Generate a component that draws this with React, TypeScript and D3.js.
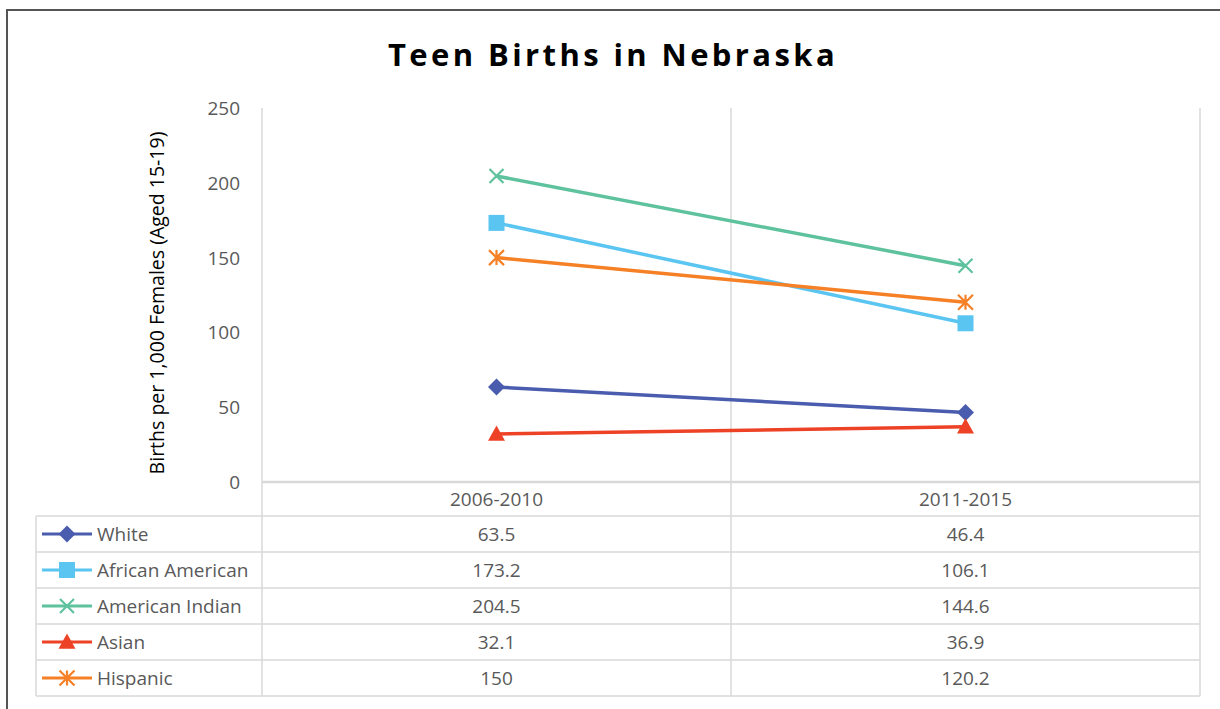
import React from "react";
import * as d3 from "d3";

const categories = ["2006-2010", "2011-2015"];
const seriesNames = ["White", "African American", "American Indian", "Asian", "Hispanic"];
const whiteValues = [63.5, 46.4];
const africanAmericanValues = [173.2, 106.1];
const americanIndianValues = [204.5, 144.6];
const asianValues = [32.1, 36.9];
const hispanicValues = [150, 120.2];
const yTicks = [0, 50, 100, 150, 200, 250];
const valueLabels = [
  ["63.5", "46.4"],
  ["173.2", "106.1"],
  ["204.5", "144.6"],
  ["32.1", "36.9"],
  ["150", "120.2"],
];

const seriesValues = [whiteValues, africanAmericanValues, americanIndianValues, asianValues, hispanicValues];
const colors = ["#4a5cae", "#5bc5f2", "#5ec29e", "#ee4227", "#f58026"];
const markers = ["diamond", "square", "x", "triangle", "star"];

const FONT = "Open Sans, Noto Sans, sans-serif";
const GRID = "#d9d9d9";
const TXT = "#595959";

function Marker({ type, x, y, color }: { type: string; x: number; y: number; color: string }) {
  if (type === "diamond") {
    const s = 8.5;
    return <path d={`M${x},${y - s}L${x + s},${y}L${x},${y + s}L${x - s},${y}Z`} fill={color} />;
  }
  if (type === "square") {
    const s = 8;
    return <rect x={x - s} y={y - s} width={2 * s} height={2 * s} fill={color} />;
  }
  if (type === "triangle") {
    const s = 8.5;
    return <path d={`M${x},${y - s}L${x + s},${y + s * 0.8}L${x - s},${y + s * 0.8}Z`} fill={color} />;
  }
  if (type === "x") {
    const s = 7;
    return (
      <path d={`M${x - s},${y - s}L${x + s},${y + s}M${x - s},${y + s}L${x + s},${y - s}`} stroke={color} strokeWidth={2.2} />
    );
  }
  const s = 7.5;
  return (
    <path
      d={`M${x - s},${y - s}L${x + s},${y + s}M${x - s},${y + s}L${x + s},${y - s}M${x},${y - s}L${x},${y + s}`}
      stroke={color}
      strokeWidth={2.2}
    />
  );
}

export default function App() {
  const W = 1220;
  const H = 709;
  const left = 262;
  const right = 1200;
  const top = 108;
  const bottom = 482;
  const tableLeft = 36;
  const rowTops = [516, 552, 588, 624, 660];
  const rowH = 36;
  const tableBottom = 696;

  const x = d3.scaleBand<string>().domain(categories).range([left, right]);
  const y = d3.scaleLinear().domain([0, 250]).range([bottom, top]);
  const cx = (c: string) => (x(c) as number) + x.bandwidth() / 2;
  const line = d3
    .line<number>()
    .x((_, i) => cx(categories[i]))
    .y((v) => y(v));

  return (
    <svg width={W} height={H} style={{ position: "absolute", left: 0, top: 0, background: "#fff" }}>
      <rect x={0} y={0} width={W} height={H} fill="#fff" />
      {/* outer border */}
      <line x1={6} y1={10} x2={W} y2={10} stroke="#555" strokeWidth={2} />
      <line x1={7} y1={10} x2={7} y2={H} stroke="#555" strokeWidth={2} />

      <text
        x={613}
        y={66}
        textAnchor="middle"
        fontFamily={FONT}
        fontWeight="bold"
        fontSize={31}
        letterSpacing={3.4}
        fill="#000"
      >
        Teen Births in Nebraska
      </text>

      {/* vertical gridlines */}
      {[left, left + x.bandwidth(), right].map((gx, i) => (
        <line key={i} x1={gx} x2={gx} y1={top} y2={bottom} stroke={GRID} strokeWidth={1.5} />
      ))}
      {/* axis line */}
      <line x1={left} x2={right} y1={bottom} y2={bottom} stroke={GRID} strokeWidth={2.5} />

      {/* y ticks */}
      {yTicks.map((t) => (
        <text key={t} x={240} y={y(t) + 7} textAnchor="end" fontFamily={FONT} fontSize={19} fill={TXT}>
          {t}
        </text>
      ))}
      <text
        transform={`translate(164,${(top + bottom) / 2 + 8}) rotate(-90)`}
        textAnchor="middle"
        fontFamily={FONT}
        fontSize={19.5}
        fill="#000"
      >
        Births per 1,000 Females (Aged 15-19)
      </text>

      {/* category labels */}
      {categories.map((c) => (
        <text key={c} x={cx(c)} y={506} textAnchor="middle" fontFamily={FONT} fontSize={19} fill={TXT}>
          {c}
        </text>
      ))}

      {/* table grid */}
      <line x1={left} x2={left} y1={bottom} y2={tableBottom} stroke={GRID} strokeWidth={1.5} />
      <line x1={left + x.bandwidth()} x2={left + x.bandwidth()} y1={bottom} y2={tableBottom} stroke={GRID} strokeWidth={1.5} />
      <line x1={right} x2={right} y1={bottom} y2={tableBottom} stroke={GRID} strokeWidth={1.5} />
      <line x1={tableLeft} x2={tableLeft} y1={rowTops[0]} y2={tableBottom} stroke={GRID} strokeWidth={1.5} />
      {[...rowTops, tableBottom].map((ry, i) => (
        <line key={i} x1={tableLeft} x2={right} y1={ry} y2={ry} stroke={GRID} strokeWidth={1.5} />
      ))}

      {/* table rows */}
      {seriesNames.map((name, si) => {
        const ry = rowTops[si] + rowH / 2;
        return (
          <g key={name}>
            <line x1={42} x2={92} y1={ry} y2={ry} stroke={colors[si]} strokeWidth={3} />
            <Marker type={markers[si]} x={67} y={ry} color={colors[si]} />
            <text x={97} y={ry + 7} fontFamily={FONT} fontSize={19} fill={TXT}>
              {name}
            </text>
            {categories.map((c, ci) => (
              <text key={c} x={cx(c)} y={ry + 7} textAnchor="middle" fontFamily={FONT} fontSize={19} fill={TXT}>
                {valueLabels[si][ci]}
              </text>
            ))}
          </g>
        );
      })}

      {/* series */}
      {seriesValues.map((vals, si) => (
        <g key={si}>
          <path d={line(vals) as string} fill="none" stroke={colors[si]} strokeWidth={3.5} />
          {vals.map((v, i) => (
            <Marker key={i} type={markers[si]} x={cx(categories[i])} y={y(v)} color={colors[si]} />
          ))}
        </g>
      ))}
    </svg>
  );
}
